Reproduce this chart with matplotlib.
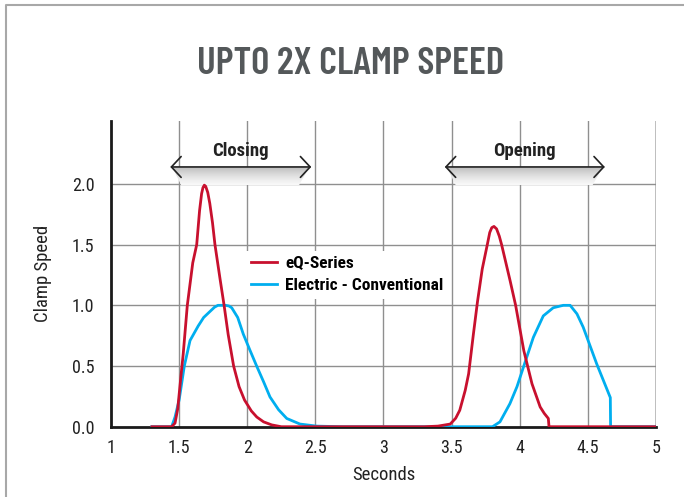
import numpy as np
import matplotlib
matplotlib.use('Agg')
import matplotlib.pyplot as plt
from matplotlib.patches import Polygon
from matplotlib.lines import Line2D

plt.rcParams['font.family'] = ['Roboto Condensed', 'DejaVu Sans']

# Дані
eq_x = [1.30, 1.445, 1.47, 1.49, 1.51, 1.53, 1.56, 1.60, 1.629, 1.65, 1.665, 1.675, 1.685,
        1.695, 1.71, 1.725, 1.745, 1.763, 1.80, 1.83, 1.86, 1.90, 1.94, 1.98, 2.03, 2.07,
        2.12, 2.18, 2.25,
        3.30, 3.40, 3.49, 3.53, 3.56, 3.60, 3.625, 3.66, 3.69, 3.725, 3.762, 3.78, 3.795,
        3.811, 3.83, 3.85, 3.867, 3.93, 3.97, 4.03, 4.09, 4.15, 4.18, 4.21, 4.215, 5.0]
eq_y = [0, 0, 0.03, 0.15, 0.38, 0.6, 1.0, 1.35, 1.5, 1.78, 1.92, 1.97, 1.99,
        1.98, 1.93, 1.84, 1.68, 1.5, 1.22, 1.0, 0.76, 0.5, 0.33, 0.22, 0.13, 0.08,
        0.04, 0.015, 0,
        0, 0.005, 0.022, 0.07, 0.136, 0.3, 0.436, 0.763, 1.03, 1.3, 1.5, 1.6, 1.64,
        1.65, 1.63, 1.57, 1.5, 1.2, 1.0, 0.627, 0.354, 0.163, 0.11, 0.068, 0, 0]

el_x = [1.30, 1.445, 1.47, 1.50, 1.538, 1.58, 1.64, 1.68, 1.727, 1.76, 1.785, 1.84, 1.865,
        1.886, 1.93, 1.971, 2.02, 2.069, 2.12, 2.167, 2.23, 2.29, 2.387, 2.51, 2.7,
        3.80, 3.855, 3.928, 3.98, 4.027, 4.10, 4.173, 4.246, 4.30, 4.32, 4.37, 4.42,
        4.466, 4.565, 4.665, 4.667, 5.0]
el_y = [0, 0, 0.08, 0.22, 0.5, 0.71, 0.83, 0.9, 0.95, 0.985, 1.0, 1.0, 0.995,
        0.98, 0.9, 0.763, 0.63, 0.5, 0.37, 0.245, 0.14, 0.068, 0.022, 0.005, 0,
        0, 0.04, 0.19, 0.33, 0.49, 0.736, 0.913, 0.98, 0.995, 1.0, 1.0, 0.93,
        0.82, 0.518, 0.24, 0, 0]

x_ticks = [1, 1.5, 2, 2.5, 3, 3.5, 4, 4.5, 5]
x_labels = ['1', '1.5', '2', '2.5', '3', '3.5', '4', '4.5', '5']
y_ticks = [0.0, 0.5, 1.0, 1.5, 2.0]
y_labels = ['0.0', '0.5', '1.0', '1.5', '2.0']

# Фази: (назва, початок, кінець)
phases = [('Closing', 1.435, 2.47), ('Opening', 3.45, 4.625)]

red = '#c8102e'
blue = '#00aeef'
ink = '#222222'

fig = plt.figure(figsize=(6.84, 4.97), dpi=100)
ax = fig.add_axes([0.1623, 0.1414, 0.7967, 0.6155])

# Сітка
for xv in x_ticks[1:-1]:
    ax.axvline(xv, color='#8f8f8f', lw=1, zorder=1)
ax.axvline(5, color='#b8b8b8', lw=2, zorder=1)
for yv in y_ticks[1:]:
    ax.axhline(yv, color='#8f8f8f', lw=1, zorder=1)

for s in ['top', 'right']:
    ax.spines[s].set_visible(False)
for s in ['left', 'bottom']:
    ax.spines[s].set_color('#1a1a1a')
    ax.spines[s].set_linewidth(2)

ax.set_xticks(x_ticks)
ax.set_xticklabels(x_labels)
ax.set_yticks(y_ticks)
ax.set_yticklabels(y_labels)
ax.tick_params(length=0, labelsize=13, colors=ink)
ax.tick_params(axis='x', pad=9)
ax.tick_params(axis='y', pad=12)

ax.plot(el_x, el_y, color=blue, lw=2, zorder=3, label='Electric - Conventional')
ax.plot(eq_x, eq_y, color=red, lw=2, zorder=4, label='eQ-Series')

h, l = ax.get_legend_handles_labels()
leg = ax.legend(h[::-1], l[::-1], loc='upper left', bbox_to_anchor=(0.232, 0.604),
                frameon=True, fancybox=False, framealpha=1, edgecolor='none',
                prop={'weight': 'bold', 'size': 12.5}, handlelength=1.5,
                handletextpad=0.45, borderpad=0.3, labelspacing=0.42)
leg.set_zorder(5)

# Стрілки фаз із градієнтом
grad = np.linspace(1, 0, 100).reshape(-1, 1)
for name, x0, x1 in phases:
    poly = Polygon([(x0 + 0.015, 2.14), (x1 - 0.015, 2.14), (x1 - 0.09, 1.99), (x0 + 0.08, 1.99)],
                   closed=True, facecolor='none', edgecolor='none', transform=ax.transData)
    ax.add_patch(poly)
    im = ax.imshow(grad, extent=(x0, x1, 1.99, 2.14), aspect='auto', cmap='Greys',
                   vmin=-0.15, vmax=2.8, zorder=2, origin='upper')
    im.set_clip_path(poly)
    ax.annotate('', xy=(x0, 2.14), xytext=(x1, 2.14),
                arrowprops=dict(arrowstyle='<->,head_length=0.7,head_width=0.75',
                                color=ink, lw=1.2, shrinkA=0, shrinkB=0), zorder=6)
    ax.text((x0 + x1) / 2, 2.27, name, ha='center', va='center', fontsize=13.5,
            fontweight='bold', color=ink, zorder=6)
ax.set_xlim(1, 5)
ax.set_ylim(0, 2.52)

ax.set_xlabel('Seconds', fontsize=13.5, color=ink, labelpad=6)
ax.set_ylabel('Clamp Speed', fontsize=13.5, color=ink, labelpad=14)

fig.text(0.512, 0.872, 'UPTO 2X CLAMP SPEED', ha='center', va='center', fontsize=28,
         family=['Barlow Condensed', 'Oswald', 'DejaVu Sans'], fontweight=600, color='#54585a')

# Рамка
fig.add_artist(Line2D([6 / 684, 6 / 684, 1], [0, 1 - 5 / 497, 1 - 5 / 497],
                      transform=fig.transFigure, color='#a8a8a8', lw=1.5))

fig.savefig('out.png', dpi=100)
